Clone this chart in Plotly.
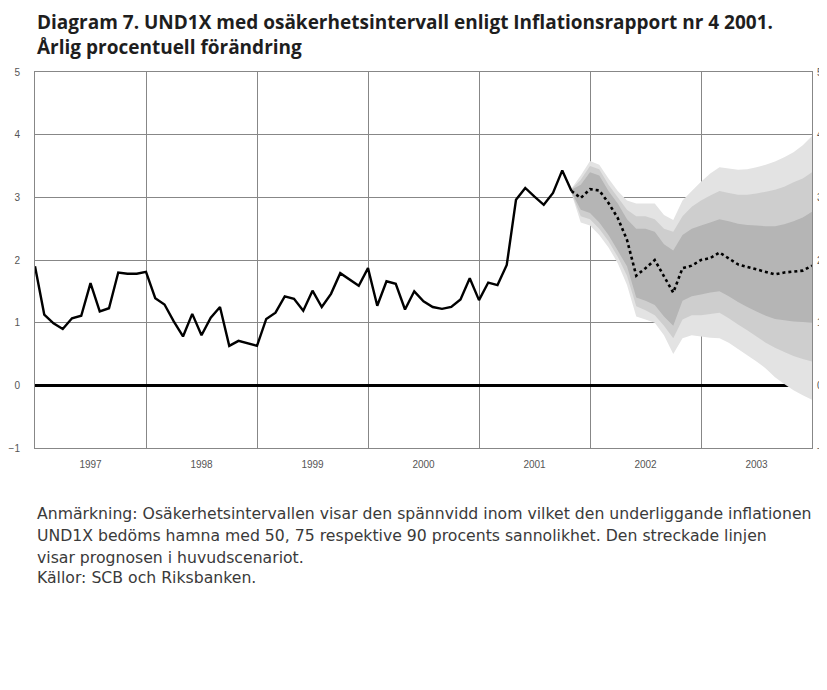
import plotly.graph_objects as go

# ---- data ----
actual_start = 1997
actual_values = [
    # 1997
    1.90, 1.13, 0.99, 0.90, 1.07, 1.11, 1.63, 1.18, 1.23, 1.80, 1.78, 1.78,
    # 1998
    1.81, 1.39, 1.29, 1.02, 0.78, 1.14, 0.80, 1.08, 1.25, 0.63, 0.71, 0.67,
    # 1999
    0.63, 1.06, 1.16, 1.42, 1.38, 1.19, 1.51, 1.25, 1.46, 1.79, 1.69, 1.59,
    # 2000
    1.87, 1.27, 1.66, 1.62, 1.21, 1.50, 1.34, 1.25, 1.22, 1.25, 1.37, 1.71,
    # 2001 (Jan-Nov)
    1.36, 1.64, 1.60, 1.92, 2.96, 3.15, 3.01, 2.88, 3.07, 3.43, 3.10,
]

# forecast: Nov 2001 .. Jan 2004 (monthly)
forecast_start = 2001 + 10 / 12
forecast = [3.10, 2.99, 3.13, 3.11, 2.91, 2.67, 2.32, 1.75, 1.87, 2.00, 1.74, 1.48,
            1.87, 1.91, 2.00, 2.03, 2.12, 2.02, 1.93, 1.89, 1.85, 1.80, 1.77, 1.80,
            1.82, 1.83, 1.91]
upper90 = [3.14, 3.35, 3.58, 3.52, 3.30, 3.10, 2.95, 2.90, 2.90, 2.90, 2.72, 2.64,
           2.95, 3.10, 3.25, 3.38, 3.48, 3.46, 3.44, 3.45, 3.48, 3.52, 3.57, 3.64,
           3.72, 3.83, 3.98]
upper75 = [3.13, 3.28, 3.50, 3.45, 3.20, 3.00, 2.80, 2.70, 2.70, 2.65, 2.50, 2.45,
           2.70, 2.85, 2.95, 3.03, 3.10, 3.07, 3.04, 3.04, 3.06, 3.09, 3.12, 3.17,
           3.24, 3.30, 3.40]
upper50 = [3.12, 3.20, 3.40, 3.35, 3.10, 2.90, 2.65, 2.50, 2.50, 2.45, 2.25, 2.15,
           2.40, 2.50, 2.55, 2.60, 2.65, 2.62, 2.58, 2.56, 2.55, 2.54, 2.54, 2.57,
           2.62, 2.68, 2.77]
lower50 = [3.08, 2.80, 2.75, 2.60, 2.40, 2.15, 1.90, 1.40, 1.35, 1.28, 1.10, 0.95,
           1.35, 1.42, 1.45, 1.48, 1.50, 1.42, 1.33, 1.25, 1.18, 1.11, 1.06, 1.04,
           1.02, 1.01, 1.00]
lower75 = [3.07, 2.70, 2.65, 2.50, 2.30, 2.05, 1.75, 1.26, 1.20, 1.12, 0.95, 0.75,
           1.05, 1.12, 1.12, 1.14, 1.16, 1.07, 0.97, 0.88, 0.78, 0.68, 0.60, 0.53,
           0.47, 0.42, 0.38]
lower90 = [3.06, 2.60, 2.55, 2.40, 2.20, 1.95, 1.60, 1.10, 1.05, 1.00, 0.80, 0.50,
           0.75, 0.80, 0.78, 0.76, 0.75, 0.68, 0.58, 0.48, 0.38, 0.27, 0.13, 0.02,
           -0.08, -0.16, -0.23]

year_labels = ["1997", "1998", "1999", "2000", "2001", "2002", "2003"]
y_ticks = [-1, 0, 1, 2, 3, 4, 5]
y_tick_text = ["−1", "0", "1", "2", "3", "4", "5"]

title_lines = ["Diagram 7. UND1X med osäkerhetsintervall enligt Inflationsrapport nr 4 2001.",
               "Årlig procentuell förändring"]
note_lines = ["Anmärkning: Osäkerhetsintervallen visar den spännvidd inom vilket den underliggande inflationen",
              "UND1X bedöms hamna med 50, 75 respektive 90 procents sannolikhet. Den streckade linjen",
              "visar prognosen i huvudscenariot.",
              "Källor: SCB och Riksbanken."]

# ---- derived x positions ----
actual_x = [actual_start + i / 12 for i in range(len(actual_values))]
fc_x = [forecast_start + i / 12 for i in range(len(forecast))]
year_num = [int(y) for y in year_labels]

fig = go.Figure()

bands = [
    (upper90, lower90, "#e3e3e3"),
    (upper75, lower75, "#cecece"),
    (upper50, lower50, "#b5b5b5"),
]
for up, lo, col in bands:
    fig.add_trace(go.Scatter(
        x=fc_x + fc_x[::-1], y=up + lo[::-1],
        fill="toself", fillcolor=col, mode="none",
        line=dict(width=0), hoverinfo="skip", showlegend=False))

fig.add_trace(go.Scatter(x=actual_x, y=actual_values, mode="lines",
                         line=dict(color="black", width=2.4), showlegend=False))
fig.add_trace(go.Scatter(x=fc_x, y=forecast, mode="lines",
                         line=dict(color="black", width=2.6, dash="dot"), showlegend=False))
# invisible trace for the right-hand axis
fig.add_trace(go.Scatter(x=[actual_start], y=[0], yaxis="y2", mode="markers",
                         marker=dict(opacity=0), hoverinfo="skip", showlegend=False))

grid_col = "#878787"
tick_font = dict(family="Liberation Sans, Arial, sans-serif", size=10, color="#555555")

annotations = [dict(text="<br>".join(title_lines), xref="paper", yref="paper", x=0, y=1.1001,
                    xanchor="left", yanchor="middle", align="left", showarrow=False,
                    font=dict(family="Open Sans, Noto Sans, sans-serif", size=19,
                              color="#1e1e1e", weight="bold"))]
note_y = [-0.1729, -0.2314, -0.2899, -0.3457]
for txt, yy in zip(note_lines, note_y):
    annotations.append(dict(text=txt, xref="paper", yref="paper", x=0, y=yy,
                            xanchor="left", yanchor="middle", showarrow=False,
                            font=dict(family="DejaVu Sans, sans-serif", size=15.7,
                                      color="#3a3a3a")))

fig.update_layout(
    width=819, height=682,
    margin=dict(l=27, r=15, t=64, b=242),
    paper_bgcolor="white", plot_bgcolor="white",
    showlegend=False,
    xaxis=dict(range=[1997, 2004], tickmode="array",
               tickvals=[y + 0.5 for y in year_num], ticktext=year_labels,
               showgrid=False, ticks="outside", ticklen=7, tickcolor="rgba(0,0,0,0)",
               tickfont=tick_font, showline=True, linecolor=grid_col, linewidth=1,
               mirror=True, zeroline=False, automargin=False,
               minor=dict(tickmode="array", tickvals=year_num[1:], showgrid=True,
                          gridcolor=grid_col, gridwidth=1, ticks="")),
    yaxis=dict(range=[-1, 5], tickmode="array", tickvals=y_ticks,
               ticktext=y_tick_text,
               showgrid=True, gridcolor=grid_col, gridwidth=1,
               zeroline=True, zerolinecolor="black", zerolinewidth=3,
               ticks="outside", ticklen=12, tickcolor="rgba(0,0,0,0)",
               tickfont=tick_font, showline=True, linecolor=grid_col, linewidth=1,
               mirror=True, automargin=False),
    yaxis2=dict(range=[-1, 5], overlaying="y", side="right", tickmode="array",
                tickvals=y_ticks, ticktext=y_tick_text,
                showgrid=False, zeroline=False, ticks="outside", ticklen=2,
                tickcolor="rgba(0,0,0,0)", tickfont=tick_font, automargin=False),
    annotations=annotations,
)

fig.write_html("out.html")
